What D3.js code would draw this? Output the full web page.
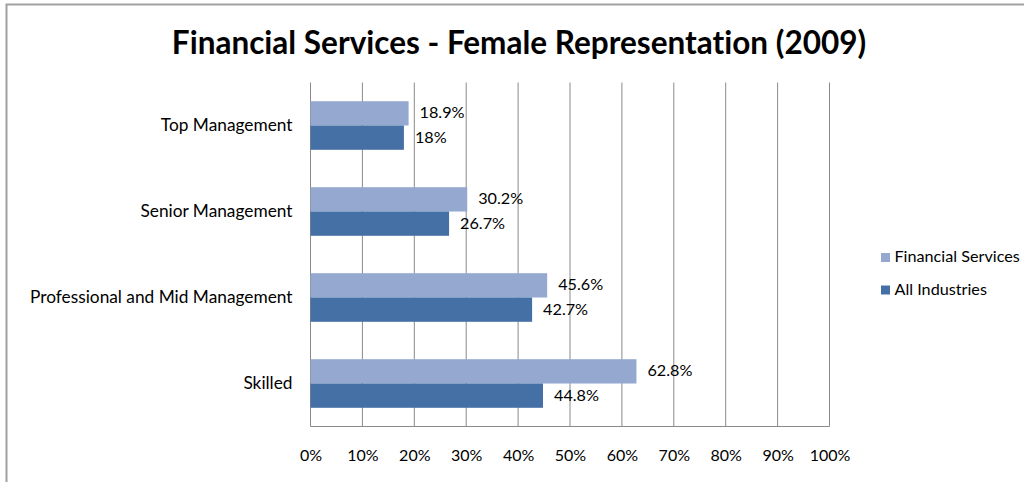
<!DOCTYPE html>
<html>
<head>
<meta charset="utf-8">
<script src="https://cdn.jsdelivr.net/npm/d3@7"></script>
<style>
  html, body { margin: 0; padding: 0; background: #fff; }
  svg { display: block; font-family: Lato, "Open Sans", sans-serif; font-variant-ligatures: none; }
</style>
</head>
<body>
<svg id="chart" width="1024" height="482"></svg>
<script>
// Job levels, top to bottom
const categories = ["Top Management", "Senior Management", "Professional and Mid Management", "Skilled"];
// Share of women (%) at each level
const financialServices = [18.9, 30.2, 45.6, 62.8];
const allIndustries = [18, 26.7, 42.7, 44.8];
const seriesNames = ["Financial Services", "All Industries"];
const tickValues = [0, 10, 20, 30, 40, 50, 60, 70, 80, 90, 100];

const colors = { "Financial Services": "#94a8d0", "All Industries": "#4570a6" };

const svg = d3.select("#chart");
const W = 1024, H = 482;

// chart frame
svg.append("rect")
  .attr("x", 6.5).attr("y", 4.5)
  .attr("width", W + 10).attr("height", H + 10)
  .attr("fill", "#fff")
  .attr("stroke", "#a0a0a0").attr("stroke-width", 2);

const plot = { left: 310.5, right: 829.5, top: 82.5, bottom: 426.5 };

const x = d3.scaleLinear().domain([0, 100]).range([plot.left, plot.right]);
const y = d3.scaleBand().domain(categories)
  .range([plot.top, plot.bottom])
  .paddingInner(0.435).paddingOuter(0.2175);
const ySub = d3.scaleBand().domain(seriesNames).range([0, y.bandwidth()]);

// title
svg.append("text")
  .attr("x", 519).attr("y", 54)
  .attr("text-anchor", "middle")
  .attr("font-size", 31.5).attr("font-weight", 700)
  .attr("fill", "#000")
  .text("Financial Services - Female Representation (2009)");

// vertical gridlines
svg.append("g").selectAll("line")
  .data(tickValues)
  .join("line")
  .attr("x1", d => x(d)).attr("x2", d => x(d))
  .attr("y1", plot.top).attr("y2", plot.bottom)
  .attr("stroke", "#8a8a8a").attr("stroke-width", 1);

// bottom axis line
svg.append("line")
  .attr("x1", plot.left).attr("x2", plot.right)
  .attr("y1", plot.bottom).attr("y2", plot.bottom)
  .attr("stroke", "#8a8a8a").attr("stroke-width", 1);

// x axis labels
const xAxis = d3.axisBottom(x)
  .tickValues(tickValues)
  .tickSize(0).tickPadding(0)
  .tickFormat(d => d + "%");
const gx = svg.append("g")
  .attr("transform", `translate(0,${plot.bottom})`)
  .call(xAxis);
gx.select(".domain").remove();
gx.selectAll("text")
  .attr("font-family", "Lato, sans-serif")
  .attr("font-size", 16).attr("fill", "#000")
  .attr("dy", null).attr("y", 34.5);

// category labels
const yAxis = d3.axisLeft(y).tickSize(0).tickPadding(0);
const gy = svg.append("g")
  .attr("transform", `translate(${plot.left - 18},0)`)
  .call(yAxis);
gy.select(".domain").remove();
gy.selectAll("text")
  .attr("font-family", "Lato, sans-serif")
  .attr("font-size", 17.3).attr("fill", "#000");

// bars
const rows = categories.map((c, i) => ({
  category: c,
  values: [
    { series: "Financial Services", value: financialServices[i] },
    { series: "All Industries", value: allIndustries[i] }
  ]
}));

const groups = svg.append("g").selectAll("g")
  .data(rows)
  .join("g")
  .attr("transform", d => `translate(0,${y(d.category)})`);

groups.selectAll("rect")
  .data(d => d.values)
  .join("rect")
  .attr("x", x(0))
  .attr("y", d => ySub(d.series))
  .attr("width", d => x(d.value) - x(0))
  .attr("height", ySub.bandwidth())
  .attr("fill", d => colors[d.series]);

// value labels
groups.selectAll("text")
  .data(d => d.values)
  .join("text")
  .attr("x", d => x(d.value) + 11)
  .attr("y", d => ySub(d.series) + ySub.bandwidth() / 2 + 1)
  .attr("dominant-baseline", "middle")
  .attr("font-size", 16.2).attr("fill", "#000")
  .text(d => d.value + "%");

// legend
const legend = svg.append("g").selectAll("g")
  .data(seriesNames)
  .join("g")
  .attr("transform", (d, i) => `translate(881,${253 + i * 32.5})`);
legend.append("rect")
  .attr("width", 9).attr("height", 9)
  .attr("fill", d => colors[d]);
legend.append("text")
  .attr("x", 13.5).attr("y", 5)
  .attr("dominant-baseline", "middle")
  .attr("font-size", 16.2).attr("fill", "#000")
  .text(d => d);
</script>
</body>
</html>
